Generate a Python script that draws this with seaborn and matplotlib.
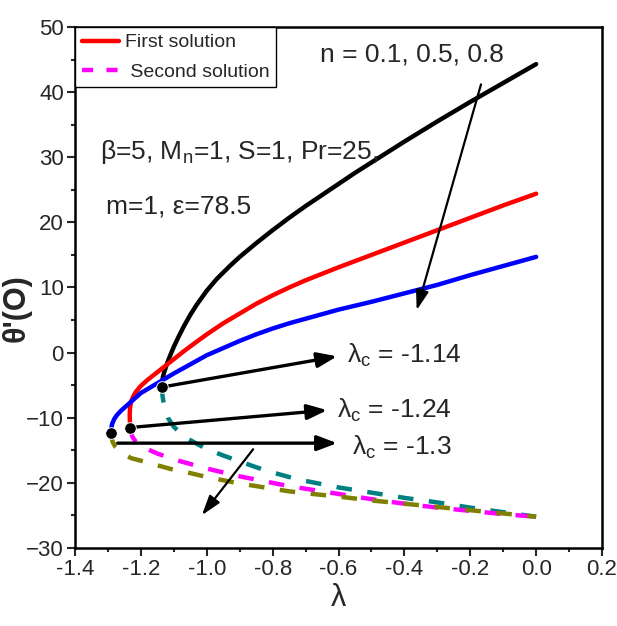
import numpy as np
import pandas as pd
import seaborn as sns
import matplotlib
matplotlib.use("Agg")
import matplotlib.pyplot as plt
from matplotlib.lines import Line2D

# waarden afgelezen uit de figuur
# n = 0.1 (zwart / teal)
n01_first_x = [-1.137, -1.136, -1.133, -1.128, -1.12, -1.11, -1.10, -1.085, -1.07, -1.05, -1.03, -1.0,
               -0.97, -0.93, -0.9, -0.85, -0.8, -0.75, -0.7, -0.65, -0.6, -0.55, -0.5, -0.4, -0.3, -0.2, -0.1, 0.0]
n01_first_y = [-5.3, -4.6, -3.7, -2.8, -1.6, -0.3, 0.9, 2.5, 4.0, 5.8, 7.4, 9.5,
               11.3, 13.3, 14.7, 16.8, 18.8, 20.7, 22.5, 24.2, 25.9, 27.6, 29.2, 32.4, 35.5, 38.5, 41.4, 44.3]
n01_second_x = [-1.137, -1.134, -1.128, -1.118, -1.10, -1.066, -1.03, -1.0, -0.95, -0.9, -0.85, -0.8,
                -0.75, -0.7, -0.65, -0.6, -0.5, -0.4, -0.3, -0.2, -0.1, 0.0]
n01_second_y = [-5.3, -6.8, -8.5, -10.0, -11.4, -13.0, -14.0, -14.8, -15.8, -16.7, -17.6, -18.4,
                -19.1, -19.7, -20.2, -20.7, -21.5, -22.3, -23.0, -23.8, -24.5, -25.2]

# n = 0.5 (rood / magenta)
n05_first_x = [-1.232, -1.2335, -1.234, -1.233, -1.23, -1.224, -1.215, -1.2, -1.18, -1.16, -1.13, -1.1,
               -1.07, -1.03, -1.0, -0.95, -0.9, -0.85, -0.8, -0.75, -0.7, -0.65, -0.6, -0.5, -0.4, -0.3, -0.2, -0.1, 0.0]
n05_first_y = [-11.5, -10.5, -9.5, -8.5, -7.6, -6.8, -6.0, -5.1, -4.2, -3.4, -2.2, -1.0,
               0.2, 1.7, 2.8, 4.5, 6.0, 7.5, 8.8, 10.0, 11.1, 12.1, 13.1, 15.0, 16.9, 18.8, 20.7, 22.6, 24.4]
n05_second_x = [-1.232, -1.23, -1.225, -1.215, -1.19, -1.15, -1.1, -1.05, -1.0, -0.95, -0.9, -0.85,
                -0.8, -0.75, -0.7, -0.65, -0.6, -0.5, -0.4, -0.3, -0.2, -0.1, 0.0]
n05_second_y = [-11.5, -12.3, -13.0, -13.7, -14.6, -15.5, -16.4, -17.1, -17.8, -18.4, -19.0, -19.5,
                -20.0, -20.5, -20.9, -21.3, -21.7, -22.5, -23.2, -23.8, -24.3, -24.8, -25.2]

# n = 0.8 (blauw / olijf)
n08_first_x = [-1.291, -1.290, -1.287, -1.281, -1.273, -1.26, -1.24, -1.22, -1.2, -1.17, -1.14, -1.1,
               -1.05, -1.0, -0.95, -0.9, -0.85, -0.8, -0.75, -0.7, -0.65, -0.6, -0.5, -0.4, -0.3, -0.2, -0.1, 0.0]
n08_first_y = [-12.3, -11.6, -10.9, -10.2, -9.6, -8.9, -8.0, -7.1, -6.2, -5.3, -4.4, -3.2,
               -1.8, -0.4, 0.7, 1.8, 2.8, 3.7, 4.5, 5.2, 5.9, 6.6, 7.8, 9.1, 10.4, 11.9, 13.3, 14.7]
n08_second_x = [-1.291, -1.29, -1.285, -1.277, -1.26, -1.23, -1.2, -1.15, -1.1, -1.05, -1.0, -0.95,
                -0.9, -0.85, -0.8, -0.75, -0.7, -0.6, -0.5, -0.4, -0.3, -0.2, -0.1, 0.0]
n08_second_y = [-12.3, -13.0, -13.8, -14.5, -15.3, -16.2, -16.6, -17.3, -18.0, -18.5, -19.1, -19.6,
                -20.1, -20.5, -20.9, -21.3, -21.6, -22.1, -22.7, -23.2, -23.7, -24.2, -24.7, -25.2]

# kritieke punten
crit_x = [-1.137, -1.232, -1.291]
crit_y = [-5.3, -11.5, -12.3]
crit_labels = ["-1.14", "-1.24", "-1.3"]

first_colors = ["black", "red", "blue"]
second_colors = ["#008080", "magenta", "#808000"]

sns.set_theme(style="ticks")
plt.rcParams["font.family"] = ["Liberation Sans", "DejaVu Sans"]
plt.rcParams["mathtext.fontset"] = "custom"
plt.rcParams["mathtext.rm"] = "Liberation Sans"
plt.rcParams["mathtext.it"] = "Liberation Sans"

fig = plt.figure(figsize=(6.17, 6.26), dpi=100)
ax = fig.add_axes([0.1216, 0.1246, 0.8541, 0.8323])

first = [(n01_first_x, n01_first_y), (n05_first_x, n05_first_y), (n08_first_x, n08_first_y)]
second = [(n01_second_x, n01_second_y), (n05_second_x, n05_second_y), (n08_second_x, n08_second_y)]

for (x, y), c in zip(first, first_colors):
    df = pd.DataFrame({"lam": x, "theta": y})
    sns.lineplot(data=df, x="lam", y="theta", sort=False, color=c, lw=3.2, ax=ax)

for (x, y), c in zip(second, second_colors):
    df = pd.DataFrame({"lam": x, "theta": y})
    sns.lineplot(data=df, x="lam", y="theta", sort=False, color=c, lw=3.2,
                 ax=ax).lines[-1].set_dashes((3.5, 3.5))

sns.scatterplot(x=crit_x, y=crit_y, color="black", s=70, zorder=5, ax=ax)

# pijlen naar de lambda_c labels
arrow_kw = dict(arrowstyle="-|>,head_length=1.0,head_width=0.38", color="black", lw=2.4)
ax.annotate("", xy=(-0.596, -0.5), xytext=(crit_x[0], crit_y[0]), arrowprops=arrow_kw)
ax.annotate("", xy=(-0.626, -8.8), xytext=(crit_x[1], crit_y[1]), arrowprops=arrow_kw)
ax.annotate("", xy=(-0.596, -13.9), xytext=(-1.279, -13.9), arrowprops=arrow_kw)

ax.text(-0.575, -0.5, r"λ$_\mathregular{c}$ = " + crit_labels[0], fontsize=19, va="center")
ax.text(-0.605, -8.9, r"λ$_\mathregular{c}$ = " + crit_labels[1], fontsize=19, va="center")
ax.text(-0.56, -14.5, r"λ$_\mathregular{c}$ = " + crit_labels[2], fontsize=19, va="center")

# pijlen voor n
thin_kw = dict(arrowstyle="-|>,head_length=1.0,head_width=0.32", color="black", lw=1.6)
ax.annotate("", xy=(-0.365, 6.1), xytext=(-0.165, 41.6), arrowprops=thin_kw)
ax.annotate("", xy=(-1.02, -25.3), xytext=(-0.854, -14.5), arrowprops=thin_kw)

ax.text(-0.655, 45.7, "n = 0.1, 0.5, 0.8", fontsize=19, va="center")
ax.text(-1.325, 30.8, r"β=5, M$_\mathregular{n}$=1, S=1, Pr=25,", fontsize=19, va="center")
ax.text(-1.305, 22.4, "m=1, ε=78.5", fontsize=19, va="center")

# legenda
handles = [Line2D([], [], color="red", lw=3.2),
           Line2D([], [], color="magenta", lw=3.2, dashes=(2.5, 3))]
leg = ax.legend(handles, ["First solution", " Second solution"], loc="upper left",
                bbox_to_anchor=(0.0, 1.0), fontsize=14, frameon=True, fancybox=False,
                borderpad=0.35, handlelength=1.9, handletextpad=0.3, labelspacing=0.6,
                borderaxespad=0.0)
leg.get_frame().set_edgecolor("black")
leg.get_frame().set_linewidth(1.0)
leg.get_frame().set_alpha(1)

ax.set_xlim(-1.4, 0.2)
ax.set_ylim(-30, 50)
ax.set_xticks(np.arange(-1.4, 0.21, 0.2))
ax.set_xticklabels(["-1.4", "-1.2", "-1.0", "-0.8", "-0.6", "-0.4", "-0.2", "0.0", "0.2"])
ax.set_yticks(np.arange(-30, 51, 10))
ax.set_xticks(np.arange(-1.3, 0.2, 0.2), minor=True)
ax.set_yticks(np.arange(-25, 50, 10), minor=True)
ax.tick_params(axis="both", which="major", direction="out", length=6, width=1.5, labelsize=16, pad=2)
ax.tick_params(axis="both", which="minor", direction="out", length=3, width=1.5)
for s in ax.spines.values():
    s.set_linewidth(1.8)
    s.set_color("black")

ax.set_xlabel("λ", fontsize=22, labelpad=2)
ax.set_ylabel("θ'(O)", fontsize=22, fontweight="bold")
ax.yaxis.set_label_coords(-0.083, 0.46)

fig.savefig("out.png", dpi=100)
